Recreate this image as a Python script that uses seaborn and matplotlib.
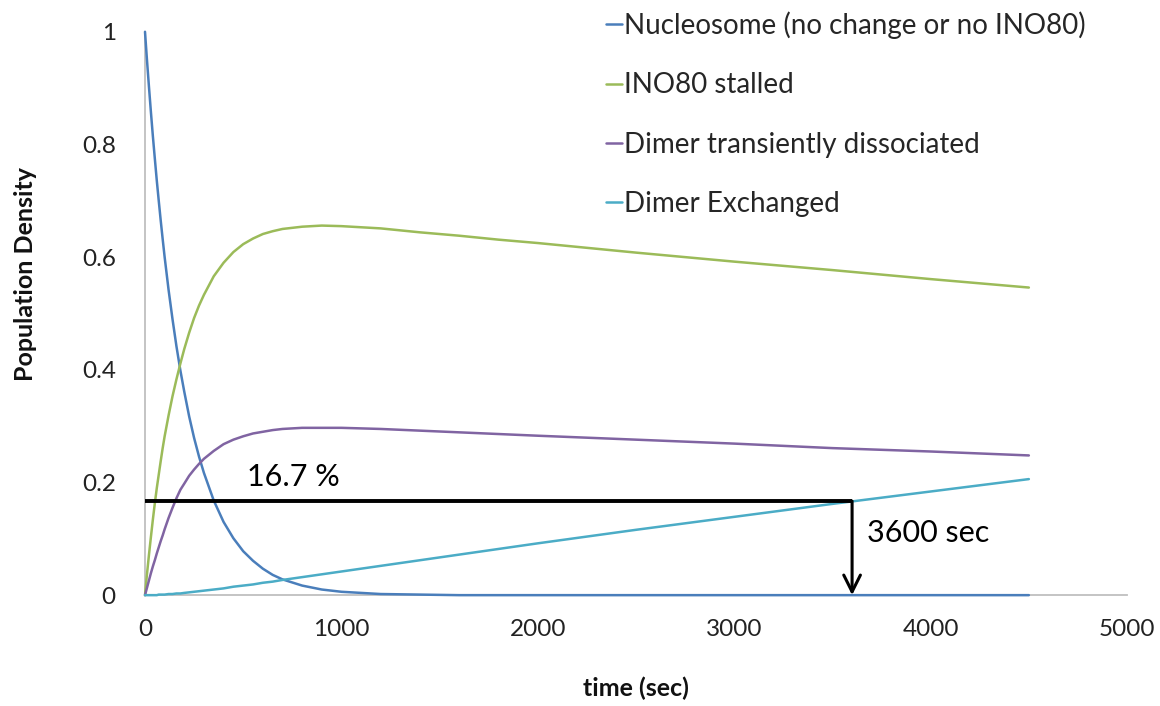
import matplotlib
matplotlib.use("Agg")
import matplotlib.pyplot as plt
import pandas as pd
import seaborn as sns

# Sampling times (seconds)
time_sec = [0, 10, 20, 30, 40, 50, 60, 70, 80, 90, 100,
            120, 140, 160, 180, 200, 225, 250, 275, 300,
            350, 400, 450, 500, 550, 600, 650, 700,
            800, 900, 1000, 1100, 1200, 1400, 1600, 1800, 2000,
            2500, 3000, 3500, 4000, 4500]

# Population fractions of each state
nucleosome = [1.000, 0.950, 0.903, 0.858, 0.815, 0.775, 0.736, 0.700, 0.665, 0.632, 0.600,
              0.542, 0.490, 0.442, 0.399, 0.361, 0.317, 0.279, 0.246, 0.217,
              0.168, 0.130, 0.101, 0.078, 0.061, 0.047, 0.036, 0.028,
              0.017, 0.010, 0.006, 0.004, 0.002, 0.001, 0.000, 0.000, 0.000,
              0.000, 0.000, 0.000, 0.000, 0.000]
ino80_stalled = [0.000, 0.037, 0.071, 0.103, 0.134, 0.163, 0.190, 0.214, 0.238, 0.261, 0.282,
                 0.319, 0.353, 0.383, 0.411, 0.437, 0.466, 0.492, 0.514, 0.533,
                 0.566, 0.590, 0.609, 0.623, 0.633, 0.641, 0.646, 0.650,
                 0.654, 0.656, 0.655, 0.653, 0.651, 0.644, 0.638, 0.631, 0.625,
                 0.608, 0.592, 0.577, 0.561, 0.546]
dimer_transient = [0.000, 0.013, 0.026, 0.039, 0.051, 0.062, 0.074, 0.085, 0.096, 0.106, 0.117,
                   0.137, 0.155, 0.172, 0.187, 0.198, 0.212, 0.223, 0.233, 0.242,
                   0.256, 0.268, 0.276, 0.282, 0.287, 0.290, 0.293, 0.295,
                   0.297, 0.297, 0.297, 0.296, 0.295, 0.292, 0.289, 0.286, 0.283,
                   0.276, 0.269, 0.261, 0.255, 0.248]
dimer_exchanged = [0.000, 0.000, 0.000, 0.000, 0.000, 0.000, 0.000, 0.001, 0.001, 0.001, 0.001,
                   0.002, 0.002, 0.003, 0.003, 0.004, 0.005, 0.006, 0.007, 0.008,
                   0.010, 0.012, 0.015, 0.017, 0.019, 0.022, 0.024, 0.027,
                   0.032, 0.037, 0.042, 0.047, 0.052, 0.062, 0.072, 0.082, 0.092,
                   0.116, 0.139, 0.162, 0.184, 0.206]

series_names = ["Nucleosome (no change or no INO80)", "INO80 stalled",
                "Dimer transiently dissociated", "Dimer Exchanged"]
series_colors = ["#4A7EBB", "#9BBB59", "#8064A2", "#4BACC6"]

x_ticks = [0, 1000, 2000, 3000, 4000, 5000]
y_ticks = [0, 0.2, 0.4, 0.6, 0.8, 1.0]
y_tick_labels = ["0", "0.2", "0.4", "0.6", "0.8", "1"]

# Exchange level reached at the one-hour mark
marker_fraction = 0.167
marker_time = 3600
marker_pct_label = "16.7 %"
marker_time_label = "3600 sec"

sns.set_style("white")
plt.rcParams["font.family"] = ["Lato", "DejaVu Sans"]

wide = pd.DataFrame({
    "time": time_sec,
    series_names[0]: nucleosome,
    series_names[1]: ino80_stalled,
    series_names[2]: dimer_transient,
    series_names[3]: dimer_exchanged,
})
long = wide.melt(id_vars="time", var_name="series", value_name="density")

fig = plt.figure(figsize=(11.6, 7.06), dpi=100)
ax = fig.add_axes([0.125, 0.157, 0.8466, 0.798])

sns.lineplot(data=long, x="time", y="density", hue="series",
             hue_order=series_names, palette=series_colors,
             linewidth=1.8, errorbar=None, ax=ax)
for ln in ax.get_lines():
    ln.set_clip_on(False)
    ln.set_zorder(3)

ax.set_xlim(0, 5000)
ax.set_ylim(0, 1)
ax.set_xticks(x_ticks)
ax.set_xticklabels([str(v) for v in x_ticks])
ax.set_yticks(y_ticks)
ax.set_yticklabels(y_tick_labels)

axis_gray = "#BFBFBF"
for side in ("top", "right"):
    ax.spines[side].set_visible(False)
for side in ("left", "bottom"):
    ax.spines[side].set_color(axis_gray)
    ax.spines[side].set_linewidth(1.3)
ax.tick_params(axis="both", direction="out", color=axis_gray, width=1.3,
               labelsize=17.5, labelcolor="#222222")
ax.tick_params(axis="x", length=6.5, pad=10.5)
ax.tick_params(axis="y", length=6.5, pad=14.5)

ax.set_xlabel("time (sec)", fontsize=18, fontweight="bold", color="#111111")
ax.set_ylabel("Population Density", fontsize=18, fontweight="bold", color="#111111")
ax.xaxis.set_label_coords(0.5, -0.145)
ax.yaxis.set_label_coords(-0.11, 0.57)

# Marker: horizontal level and arrow down to the time axis
ax.plot([0, marker_time], [marker_fraction, marker_fraction], color="black",
        linewidth=2.8, solid_capstyle="butt", zorder=5)
ax.annotate("", xy=(marker_time, 0), xytext=(marker_time, marker_fraction),
            arrowprops=dict(arrowstyle="->", color="black", lw=2.2,
                            mutation_scale=30, shrinkA=0, shrinkB=0),
            zorder=5)
ax.text(518, 0.21, marker_pct_label, fontsize=22, va="center", ha="left",
        color="black")
ax.text(3676, 0.11, marker_time_label, fontsize=22, va="center", ha="left",
        color="black")

sns.move_legend(ax, "upper left", bbox_to_anchor=(0.522, 0.984),
                bbox_transform=fig.transFigure, frameon=False, title=None,
                fontsize=20, handlelength=0.6, handletextpad=0.05,
                labelspacing=1.2, borderpad=0, borderaxespad=0)
for h in ax.get_legend().get_lines():
    h.set_linewidth(1.8)

fig.savefig("out.png", dpi=100)
